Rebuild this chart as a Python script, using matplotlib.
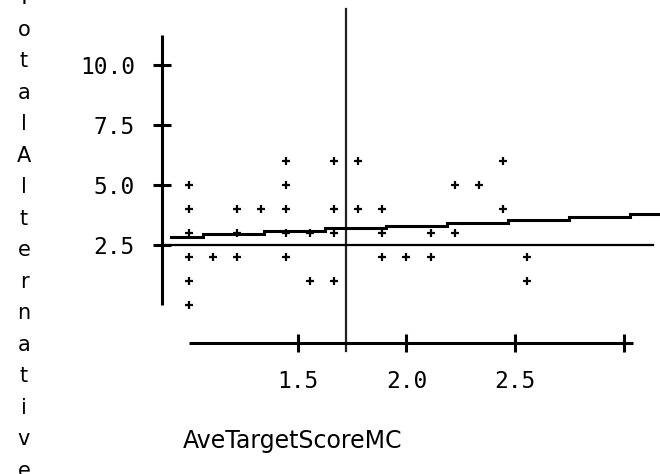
import numpy as np
import matplotlib
matplotlib.use("Agg")
import matplotlib.pyplot as plt

# 数据: AveTargetScoreMC vs TotalAlternative
x_vals = [1.0, 1.0, 1.0, 1.0, 1.0, 1.0,
          1.111,
          1.222, 1.222, 1.222,
          1.333,
          1.444, 1.444, 1.444, 1.444, 1.444,
          1.556, 1.556,
          1.667, 1.667, 1.667, 1.667,
          1.778, 1.778,
          1.889, 1.889, 1.889,
          2.0,
          2.111, 2.111,
          2.222, 2.222,
          2.333,
          2.444, 2.444,
          2.556, 2.556]
y_vals = [5, 4, 3, 2, 1, 0,
          2,
          4, 3, 2,
          4,
          6, 5, 4, 3, 2,
          3, 1,
          6, 4, 3, 1,
          6, 4,
          4, 3, 2,
          2,
          3, 2,
          5, 3,
          5,
          6, 4,
          2, 1]

x_ticks = [1.5, 2.0, 2.5, 3.0]
x_ticklabels = ["1.5", "2.0", "2.5", ""]
y_ticks = [2.5, 5.0, 7.5, 10.0]
y_ticklabels = ["2.5", "5.0", "7.5", "10.0"]

x_label = "AveTargetScoreMC"
y_label = "TotalAlternative"

# 参考线 / 拟合线
x_ref = 1.72
y_ref = 2.48
fit_intercept = 2.42
fit_slope = 0.435

fig = plt.figure(figsize=(6.6, 4.74), dpi=100)
ax = fig.add_axes([0, 0, 1, 1])
ax.set_xlim(0.1313, 3.1658)
ax.set_ylim(-7.0417, 12.7083)
ax.patch.set_visible(False)

# 坐标轴
for s in ["top", "right"]:
    ax.spines[s].set_visible(False)
ax.spines["left"].set_position(("data", 0.8747))
ax.spines["left"].set_bounds(0, 11.25)
ax.spines["bottom"].set_position(("data", -1.583))
ax.spines["bottom"].set_bounds(1.0, 3.04)
for s in ["left", "bottom"]:
    ax.spines[s].set_linewidth(2.2)
    ax.spines[s].set_capstyle("butt")

ax.set_xticks(x_ticks)
ax.set_xticklabels(x_ticklabels)
ax.set_yticks(y_ticks)
ax.set_yticklabels(y_ticklabels)
ax.tick_params(direction="inout", length=13.5, width=2.2, color="black",
               labelsize=16.5, pad=12.5)
for lab in ax.get_xticklabels() + ax.get_yticklabels():
    lab.set_family("DejaVu Sans Mono")

# 参考线
ax.plot([x_ref, x_ref], [-1.9, 12.33], color="#222222", lw=1.6)
ax.plot([0.8747, 3.1335], [y_ref, y_ref], color="black", lw=1.6)

# 拟合线 (阶梯状)
edges = np.r_[0.9175, 1.0646 + 0.2805 * np.arange(9)]
mids = np.r_[(edges[:-1] + edges[1:]) / 2, edges[-1] + 0.07]
levels = fit_intercept + fit_slope * mids
ax.step(edges, levels, where="post", color="black", lw=2.2, solid_joinstyle="miter")

# 散点
ax.plot(x_vals, y_vals, "+", color="black", ms=6, mew=1.6)

# 轴标签
ax.text(0.9726, -5.958, x_label, fontsize=17, ha="left", va="baseline")
ax.text(1 + (24 - 188.95) / 217.5, 13.2, "\n".join(y_label), fontsize=15,
        ha="center", va="top", linespacing=1.72)

fig.savefig("out.png", dpi=100)
